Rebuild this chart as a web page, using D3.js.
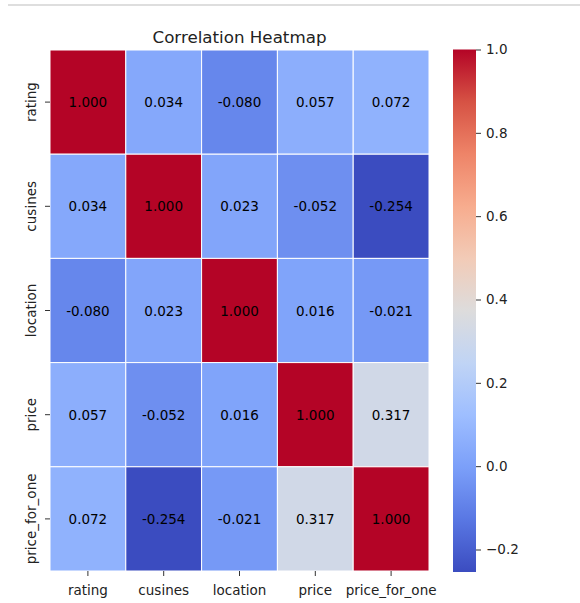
<!DOCTYPE html>
<html>
<head>
<meta charset="utf-8">
<script src="https://cdn.jsdelivr.net/npm/d3@7"></script>
<style>
  html, body { margin: 0; padding: 0; background: #fff; }
  svg { display: block; font-family: "DejaVu Sans", sans-serif; }
</style>
</head>
<body>
<svg id="chart" width="580" height="603"></svg>
<script>
// ---- data ----
const labels = ["rating", "cusines", "location", "price", "price_for_one"];
const row_rating        = [1.000, 0.034, -0.080, 0.057, 0.072];
const row_cusines       = [0.034, 1.000, 0.023, -0.052, -0.254];
const row_location      = [-0.080, 0.023, 1.000, 0.016, -0.021];
const row_price         = [0.057, -0.052, 0.016, 1.000, 0.317];
const row_price_for_one = [0.072, -0.254, -0.021, 0.317, 1.000];
const matrix = [row_rating, row_cusines, row_location, row_price, row_price_for_one];
const colorbarTicks = [-0.2, 0.0, 0.2, 0.4, 0.6, 0.8, 1.0];
const chartTitle = "Correlation Heatmap";

// coolwarm colormap stops
const coolwarm = ['#3b4cc0', '#5977e3', '#7b9ff9', '#9ebeff', '#c0d4f5', '#dddcdc',
                  '#f2cbb7', '#f7ac8e', '#ee8468', '#d65244', '#b40426'];

const vmin = -0.254, vmax = 1.0;

(function () {
const svg = d3.select("#chart");

// top faint rule
svg.append("line").attr("x1", 8).attr("x2", 580).attr("y1", 5).attr("y2", 5)
  .attr("stroke", "#dedede").attr("stroke-width", 2);

const gLeft = 50, gRight = 429, gTop = 50, gBottom = 571;
const x = d3.scaleBand().domain(labels).range([gLeft, gRight]);
const y = d3.scaleBand().domain(labels).range([gTop, gBottom]);

const tnorm = d3.scaleLinear().domain([vmin, vmax]).range([0, 1]).clamp(true);
const cmap = d3.scaleLinear()
  .domain(coolwarm.map((c, i) => i / (coolwarm.length - 1)))
  .range(coolwarm)
  .interpolate(d3.interpolateRgb);
const color = v => cmap(tnorm(v));

const cells = [];
matrix.forEach((row, i) => row.forEach((v, j) => cells.push({ r: labels[i], c: labels[j], v })));

svg.append("g").selectAll("rect").data(cells).join("rect")
  .attr("x", d => x(d.c)).attr("y", d => y(d.r))
  .attr("width", x.bandwidth()).attr("height", y.bandwidth())
  .attr("fill", d => color(d.v))
  .attr("stroke", "#fff").attr("stroke-width", 1);

svg.append("g").selectAll("text").data(cells).join("text")
  .attr("x", d => x(d.c) + x.bandwidth() / 2)
  .attr("y", d => y(d.r) + y.bandwidth() / 2)
  .attr("text-anchor", "middle").attr("dominant-baseline", "central")
  .attr("font-size", 13.5).attr("fill", "#000")
  .text(d => d3.format(".3f")(d.v).replace("\u2212", "-"));

// x axis
const xAxis = svg.append("g").attr("transform", `translate(0,${gBottom})`)
  .call(d3.axisBottom(x).tickSize(5).tickPadding(5));
xAxis.select(".domain").remove();
xAxis.selectAll("line").attr("stroke", "#333");
xAxis.selectAll("text").attr("font-size", 13.5).attr("fill", "#222")
  .attr("font-family", "DejaVu Sans").attr("dy", "1.0em");

// y axis
const yAxis = svg.append("g").attr("transform", `translate(${gLeft},0)`)
  .call(d3.axisLeft(y).tickSize(5).tickPadding(5));
yAxis.select(".domain").remove();
yAxis.selectAll("line").attr("stroke", "#333");
yAxis.selectAll("text")
  .attr("font-size", 13.5).attr("fill", "#222").attr("font-family", "DejaVu Sans")
  .attr("text-anchor", "middle").attr("x", null).attr("dy", null)
  .attr("transform", "translate(-14,0) rotate(-90)");

// title
svg.append("text").attr("x", (gLeft + gRight) / 2).attr("y", 43)
  .attr("text-anchor", "middle").attr("font-size", 16.7).attr("fill", "#222")
  .text(chartTitle);

// colorbar
const cbX = 453, cbW = 23, cbTop = 49.5, cbBottom = 572;
const cy = d3.scaleLinear().domain([vmin, vmax]).range([cbBottom, cbTop]);
const defs = svg.append("defs");
const grad = defs.append("linearGradient").attr("id", "cbgrad")
  .attr("x1", 0).attr("y1", 1).attr("x2", 0).attr("y2", 0);
grad.selectAll("stop").data(coolwarm).join("stop")
  .attr("offset", (d, i) => i / (coolwarm.length - 1))
  .attr("stop-color", d => d);
svg.append("rect").attr("x", cbX).attr("y", cbTop).attr("width", cbW)
  .attr("height", cbBottom - cbTop).attr("fill", "url(#cbgrad)");
const cAxis = svg.append("g").attr("transform", `translate(${cbX + cbW},0)`)
  .call(d3.axisRight(cy).tickValues(colorbarTicks).tickFormat(d3.format(".1f"))
    .tickSize(5).tickPadding(5));
cAxis.select(".domain").remove();
cAxis.selectAll("line").attr("stroke", "#333");
cAxis.selectAll("text").attr("font-size", 13.5).attr("fill", "#222")
  .attr("font-family", "DejaVu Sans");
})();
</script>
</body>
</html>
